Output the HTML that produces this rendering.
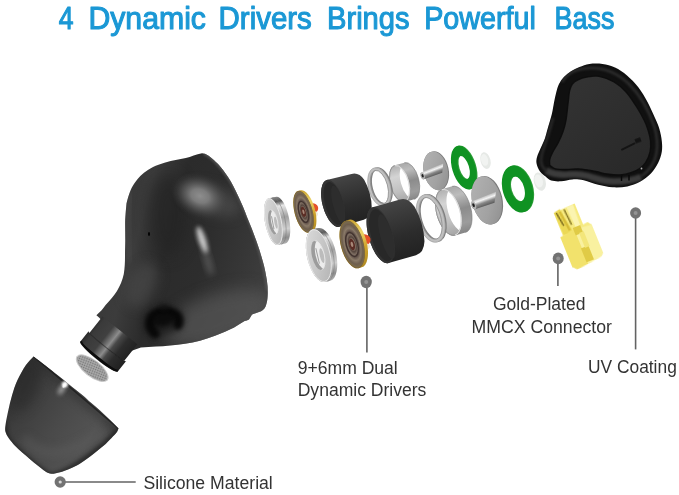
<!DOCTYPE html>
<html lang="en">
<head>
<meta charset="utf-8">
<title>4 Dynamic Drivers Brings Powerful Bass</title>
<style>
html,body{margin:0;padding:0;background:#fff;}
body{width:679px;height:495px;overflow:hidden;position:relative;font-family:"Liberation Sans",sans-serif;}
svg{position:absolute;left:0;top:0;display:block;}
.lbl{font-family:"Liberation Sans",sans-serif;font-size:17.5px;fill:#333;}
.ttl{font-family:"Liberation Sans",sans-serif;font-size:31.4px;fill:#1b98d5;stroke:#1b98d5;stroke-width:1.1px;stroke-linejoin:round;}
</style>
</head>
<body>
<svg width="679" height="495" viewBox="0 0 679 495">
<defs>
  <filter id="b05" color-interpolation-filters="sRGB" x="-50%" y="-50%" width="200%" height="200%"><feGaussianBlur stdDeviation="0.5"/></filter>
  <filter id="b1" color-interpolation-filters="sRGB" x="-50%" y="-50%" width="200%" height="200%"><feGaussianBlur stdDeviation="1"/></filter>
  <filter id="b2" color-interpolation-filters="sRGB" x="-50%" y="-50%" width="200%" height="200%"><feGaussianBlur stdDeviation="2"/></filter>
  <filter id="b3" color-interpolation-filters="sRGB" x="-50%" y="-50%" width="200%" height="200%"><feGaussianBlur stdDeviation="3"/></filter>
  <filter id="b4" color-interpolation-filters="sRGB" x="-50%" y="-50%" width="200%" height="200%"><feGaussianBlur stdDeviation="4"/></filter>
  <filter id="b6" color-interpolation-filters="sRGB" x="-50%" y="-50%" width="200%" height="200%"><feGaussianBlur stdDeviation="6"/></filter>
  <filter id="b8" color-interpolation-filters="sRGB" x="-50%" y="-50%" width="200%" height="200%"><feGaussianBlur stdDeviation="8"/></filter>
  <filter id="soft" color-interpolation-filters="sRGB" x="-5%" y="-5%" width="110%" height="110%"><feGaussianBlur stdDeviation="0.6"/></filter>
</defs>
<rect width="679" height="495" fill="#fff"/>
<!-- TITLE -->
<g id="title" class="ttl" filter="url(#soft)">
  <text y="28.5"><tspan x="58.8" textLength="14.8" lengthAdjust="spacingAndGlyphs">4</tspan> <tspan x="88.4" textLength="117.6" lengthAdjust="spacingAndGlyphs">Dynamic</tspan> <tspan x="218.6" textLength="93.2" lengthAdjust="spacingAndGlyphs">Drivers</tspan> <tspan x="327" textLength="82.6" lengthAdjust="spacingAndGlyphs">Brings</tspan> <tspan x="424.2" textLength="111.6" lengthAdjust="spacingAndGlyphs">Powerful</tspan> <tspan x="554.6" textLength="59.8" lengthAdjust="spacingAndGlyphs">Bass</tspan></text>
</g>
<!-- BODY -->
<g id="body">
  <defs>
    <linearGradient id="bodyG" x1="123" y1="230" x2="270" y2="270" gradientUnits="userSpaceOnUse">
      <stop offset="0" stop-color="#3a3a3a"/>
      <stop offset="0.1" stop-color="#3c3c3c"/>
      <stop offset="0.3" stop-color="#2b2b2b"/>
      <stop offset="0.55" stop-color="#2d2d2d"/>
      <stop offset="0.8" stop-color="#363636"/>
      <stop offset="1" stop-color="#3e3e3e"/>
    </linearGradient>
    <radialGradient id="bodyHL" cx="0.5" cy="0.5" r="0.5">
      <stop offset="0" stop-color="#929292" stop-opacity="0.95"/>
      <stop offset="0.3" stop-color="#858585" stop-opacity="0.85"/>
      <stop offset="0.6" stop-color="#666" stop-opacity="0.5"/>
      <stop offset="0.85" stop-color="#4a4a4a" stop-opacity="0.18"/>
      <stop offset="1" stop-color="#3a3a3a" stop-opacity="0"/>
    </radialGradient>
    <clipPath id="bodyClip">
      <path id="bodyPath" d="M202,153.2 C206,153.3 210,156.5 212,158.5 C215,161 217,163 218.5,164.5 C222,168.5 225,172.5 228,177 C232,183 235,189.5 238,195.7 C241.5,203 244.5,210 247,216.9 C250.5,225 253.5,233 256.4,241 C259,248 261,255 263,262 C264.7,268 266,274.5 266.9,280.4 C267.7,286 268,291 267.7,296.1 C267.5,300 266.8,303.5 265.6,306.6 C264.3,309.5 262,311.3 259,311.9 L252,314.5 L249,319.5 C247.5,320.4 246,320.8 244.6,321 C241,323.3 237.5,325.5 234.1,327.6 C228,330.5 222,333.2 215.7,335.5 C210.5,337.5 205.3,339.2 200,340.7 C195,342 190,343 185,343.8 C175,345.3 165,346.2 156,346.6 C151,347 146,347.5 140.9,347.6 L131,351 L99,317.5 L96.4,315.3 C100,312 103,309 105.6,305 C110,300 114,296 117,291 C120,286 122.5,280 123.8,274 C124.8,268 125,262 125,256.6 C125,251 125.2,246 125.3,240.7 C125.3,233 125,226 125.2,219.5 C125.5,214 126,209 126.5,203.6 C127.5,199 129,194 130.5,190.4 C132,187 133.5,184.5 134.8,182.8 C136.5,180.2 138.3,178 140.3,176 C142.7,173.7 145.2,171.7 147.9,170 C151.2,167.8 154.8,166.1 158.5,164.7 C162.4,163.2 166.5,162 170.6,160.9 C175.6,159.7 180.8,158.9 185.8,157.9 C191,156.8 196.2,154.2 202,153.2 Z"/>
    </clipPath>
  </defs>
  <g filter="url(#soft)">
    <use href="#bodyPath" fill="url(#bodyG)"/>
    <g clip-path="url(#bodyClip)">
      <!-- darker centre-left -->
      <ellipse cx="168" cy="215" rx="20" ry="42" fill="#242424" opacity="0.75" filter="url(#b8)"/>
      <path d="M130,192 C126,215 126.5,240 130,262" stroke="#4a4a4a" stroke-width="6" fill="none" opacity="0.7" filter="url(#b3)"/>
      <ellipse cx="142" cy="285" rx="14" ry="24" fill="#4c4c4c" opacity="0.6" filter="url(#b6)" transform="rotate(25 142 285)"/>
      <!-- lower area slightly lighter -->
      <ellipse cx="218" cy="318" rx="58" ry="24" fill="#585858" opacity="0.7" filter="url(#b8)" transform="rotate(-18 218 318)"/>
      <!-- big soft highlight -->
      <ellipse cx="212" cy="200" rx="30" ry="14" fill="#555" opacity="0.55" filter="url(#b6)" transform="rotate(20 212 200)"/>
      <ellipse cx="200" cy="196" rx="31" ry="22" fill="url(#bodyHL)" transform="rotate(22 200 196)"/>
      <!-- right rim lighter band -->
      <path d="M204,153.5 C212,156 222,168 230,180 C240,196 250,222 257,242 C262,258 266,274 267.5,290" stroke="#5a5a5a" stroke-width="3.5" fill="none" opacity="0.75" filter="url(#b1)"/>
      <!-- streak highlight -->
      <ellipse cx="202.2" cy="240" rx="3.6" ry="14" fill="#d6d6d6" opacity="0.95" filter="url(#b2)" transform="rotate(-18 202.2 240)"/>
      <ellipse cx="208" cy="262" rx="3.5" ry="14" fill="#777" opacity="0.55" filter="url(#b3)" transform="rotate(-16 208 262)"/>
      <!-- cable hole dark spot -->
      <ellipse cx="164" cy="321" rx="19" ry="14" fill="#1a1a1a" opacity="0.8" filter="url(#b4)" transform="rotate(-15 164 321)"/>
      <path d="M155,334 C150,329 148.5,323 151.5,317.5 C155,312 164,310.5 171,312.5 C177,314 180.5,318.5 178,325" stroke="#080808" stroke-width="9.5" fill="none" stroke-linecap="round" filter="url(#b2)"/>
      <ellipse cx="164" cy="319" rx="11" ry="7" fill="#0a0a0a" opacity="0.9" filter="url(#b2)" transform="rotate(-12 164 319)"/>
      <ellipse cx="164" cy="307.5" rx="4" ry="3" fill="#141414" opacity="0.7" filter="url(#b2)"/>
      <!-- small hole -->
      <ellipse cx="149" cy="234" rx="1" ry="2" fill="#000"/>
    </g>
  </g>
</g>
<!-- NOZZLE -->
<g id="nozzle" filter="url(#soft)">
  <defs>
    <linearGradient id="nozG" x1="-24" y1="0" x2="24" y2="0" gradientUnits="userSpaceOnUse">
      <stop offset="0" stop-color="#2a2a2a"/>
      <stop offset="0.1" stop-color="#3a3a3a"/>
      <stop offset="0.34" stop-color="#404040"/>
      <stop offset="0.45" stop-color="#707070"/>
      <stop offset="0.51" stop-color="#8c8c8c"/>
      <stop offset="0.6" stop-color="#484848"/>
      <stop offset="0.75" stop-color="#2c2c2c"/>
      <stop offset="1" stop-color="#202020"/>
    </linearGradient>
  </defs>
  <g transform="translate(100 355.4) rotate(38.5)">
    <!-- neck -->
    <path d="M-22.3,-32 L-22.3,-11 A22.3,1.5 0 0 0 22.3,-11 L22.3,-32 Z" fill="url(#nozG)"/>
    <!-- flange -->
    <path d="M-24,-11.5 A24,1.5 0 0 0 24,-11.5 L24,1.6 A24,3.6 0 0 1 -24,1.6 Z" fill="url(#nozG)"/>
    <path d="M-24,-11.5 A24,1.5 0 0 0 24,-11.5" stroke="#1a1a1a" stroke-width="1" fill="none" opacity="0.55"/>
    <!-- end opening: dark crescent -->
    <path d="M-24,1.2 A24,3.6 0 0 0 24,1.2 A24,0.8 0 0 1 -24,1.2 Z" fill="#0c0c0c"/>
    <path d="M-23.6,0.6 A24,3.6 0 0 0 23.6,0.6" stroke="#0c0c0c" stroke-width="1.6" fill="none"/>
  </g>
</g>
<!-- MESH FILTER -->
<g id="mesh" filter="url(#soft)">
  <defs>
    <pattern id="meshP" width="1.6" height="1.6" patternUnits="userSpaceOnUse" patternTransform="rotate(38)">
      <rect width="1.6" height="1.6" fill="#b4b4b4"/>
      <rect width="0.9" height="0.9" fill="#6e6e6e"/>
    </pattern>
  </defs>
  <g transform="translate(92.2 368.2) rotate(38)">
    <ellipse rx="19.6" ry="8.6" fill="#c9c9c9"/>
    <ellipse rx="18.2" ry="7.4" fill="#8e8e8e"/>
    <ellipse rx="18.2" ry="7.4" fill="url(#meshP)" opacity="0.75"/>
  </g>
</g>
<!-- EAR TIP -->
<g id="tip" filter="url(#soft)">
  <defs>
    <linearGradient id="tipG" x1="10" y1="395" x2="105" y2="455" gradientUnits="userSpaceOnUse">
      <stop offset="0" stop-color="#323232"/>
      <stop offset="0.18" stop-color="#3e3e3e"/>
      <stop offset="0.5" stop-color="#4a4a4a"/>
      <stop offset="0.8" stop-color="#535353"/>
      <stop offset="1" stop-color="#484848"/>
    </linearGradient>
    <clipPath id="tipClip">
      <path id="tipPath" d="M33.6,356.4 C37.4,359.4 40.9,362.1 45.0,365.3 C49.1,368.5 53.8,372.3 58.0,375.6 C62.2,378.9 66.0,382.0 70.0,385.2 C74.0,388.4 78.8,392.1 82.3,395.0 C85.8,397.9 88.0,400.2 91.0,402.8 C94.0,405.4 96.9,407.8 100.0,410.6 C103.1,413.4 106.4,416.5 109.5,419.5 C112.6,422.5 115.5,425.4 118.5,428.4 C117.8,429.8 117.7,430.9 116.5,432.5 C115.3,434.1 113.7,435.7 111.5,437.9 C109.3,440.1 106.4,443.2 103.5,445.8 C100.6,448.4 97.2,451.0 94.3,453.3 C91.4,455.6 88.8,457.5 86.0,459.5 C83.2,461.5 80.2,463.7 77.2,465.3 C74.2,466.9 70.9,468.2 68.0,469.4 C65.1,470.5 62.8,471.5 60.0,472.2 C57.2,472.9 53.9,473.9 51.5,473.8 C49.1,473.7 47.8,472.8 45.5,471.5 C43.2,470.2 40.5,467.8 38.0,465.8 C35.5,463.8 32.9,461.6 30.3,459.4 C27.7,457.2 25.1,455.1 22.5,452.8 C19.9,450.5 17.2,448.2 15.0,445.8 C12.8,443.4 10.6,440.8 9.0,438.5 C7.4,436.2 6.2,434.2 5.6,432.0 C5.0,429.8 5.1,428.6 5.6,425.0 C6.0,421.4 7.2,415.5 8.3,410.6 C9.4,405.7 10.5,400.6 12.0,395.5 C13.5,390.4 15.1,385.4 17.4,380.3 C19.7,375.2 23.1,369.2 25.8,365.2 C28.5,361.2 31.0,359.3 33.6,356.4 Z"/>
    </clipPath>
  </defs>
  <use href="#tipPath" fill="url(#tipG)"/>
  <g clip-path="url(#tipClip)">
    <!-- darker band along the top edge -->
    <path d="M33,356 L119,430" stroke="#2c2c2c" stroke-width="9" fill="none" opacity="0.55" filter="url(#b4)"/>
    <!-- dark bottom rim -->
    <path d="M3.5,420 C3.5,436 8,442 16,449 C28,459.5 40,471 51.5,476 C70,472 98,452 121,428" stroke="#1c1c1c" stroke-width="5" fill="none" opacity="0.8" filter="url(#b2)"/>
    <!-- lighter band above the rim -->
    <path d="M24,438 C38,456 60,462 104,432" stroke="#5e5e5e" stroke-width="9" fill="none" opacity="0.5" filter="url(#b4)"/>
    <!-- dark upper-left area -->
    <ellipse cx="26" cy="385" rx="13" ry="28" fill="#2a2a2a" opacity="0.6" filter="url(#b6)" transform="rotate(20 26 385)"/>
    <!-- specular -->
    <path d="M33.6,356.4 L118.5,428.4" stroke="#1a1a1a" stroke-width="1.6" fill="none" opacity="0.7" filter="url(#b05)"/>
    <ellipse cx="62" cy="389" rx="2.6" ry="6.5" fill="#e8e8e8" opacity="0.6" filter="url(#b2)" transform="rotate(32 62 389)"/>
    <ellipse cx="65" cy="384.2" rx="3" ry="3" fill="#fff" filter="url(#b1)"/>
    <ellipse cx="64.2" cy="385.6" rx="1.6" ry="2.4" fill="#fff" opacity="0.9" filter="url(#b05)" transform="rotate(32 64.2 385.6)"/>
  </g>
</g>
<!-- PARTS -->
<g id="parts" filter="url(#soft)">
<defs>
<linearGradient id="silverSide" x1="0" y1="-1" x2="0" y2="1" gradientUnits="objectBoundingBox" gradientTransform="translate(0 0.5) scale(1 0.5)">
  <stop offset="0" stop-color="#8a8a8a"/><stop offset="0.1" stop-color="#5a5a5a"/><stop offset="0.2" stop-color="#e6e6e6"/><stop offset="0.45" stop-color="#a2a2a2"/><stop offset="0.7" stop-color="#d0d0d0"/><stop offset="0.88" stop-color="#8e8e8e"/><stop offset="1" stop-color="#b0b0b0"/>
</linearGradient>
<linearGradient id="silverFace" x1="0" y1="0" x2="1" y2="1">
  <stop offset="0" stop-color="#dedede"/><stop offset="0.5" stop-color="#c8c8c8"/><stop offset="1" stop-color="#b0b0b0"/>
</linearGradient>
<linearGradient id="tubeSide" x1="0" y1="0" x2="0" y2="1">
  <stop offset="0" stop-color="#a8a8a8"/><stop offset="0.2" stop-color="#bcbcbc"/><stop offset="0.5" stop-color="#8c8c8c"/><stop offset="0.8" stop-color="#9c9c9c"/><stop offset="1" stop-color="#868686"/>
</linearGradient>
<linearGradient id="tubeIn" x1="0" y1="0" x2="0" y2="1">
  <stop offset="0" stop-color="#b0b0b0"/><stop offset="0.3" stop-color="#d4d4d4"/><stop offset="0.7" stop-color="#c0c0c0"/><stop offset="1" stop-color="#a4a4a4"/>
</linearGradient>
<linearGradient id="blkSide" x1="0" y1="0" x2="0" y2="1">
  <stop offset="0" stop-color="#454545"/><stop offset="0.2" stop-color="#3c3c3c"/><stop offset="0.6" stop-color="#2c2c2c"/><stop offset="1" stop-color="#222"/>
</linearGradient>
<linearGradient id="discFace" x1="0" y1="0" x2="1" y2="1">
  <stop offset="0" stop-color="#b4b4b4"/><stop offset="0.6" stop-color="#a2a2a2"/><stop offset="1" stop-color="#8c8c8c"/>
</linearGradient>
<linearGradient id="postG" x1="0" y1="0" x2="0" y2="1">
  <stop offset="0" stop-color="#bdbdbd"/><stop offset="0.3" stop-color="#f4f4f4"/><stop offset="0.62" stop-color="#8a8a8a"/><stop offset="1" stop-color="#5a5a5a"/>
</linearGradient>
<radialGradient id="drvFace" cx="0.5" cy="0.5" r="0.5">
  <stop offset="0" stop-color="#4a2a22"/><stop offset="0.14" stop-color="#6e4234"/><stop offset="0.22" stop-color="#8c7a6c"/><stop offset="0.32" stop-color="#54443c"/><stop offset="0.44" stop-color="#7e6e62"/><stop offset="0.56" stop-color="#62524a"/><stop offset="0.7" stop-color="#8a7a68"/><stop offset="0.86" stop-color="#6e5e4e"/><stop offset="1" stop-color="#7c6c4c"/>
</radialGradient>
<linearGradient id="goldRim" x1="0" y1="0" x2="0" y2="1">
  <stop offset="0" stop-color="#c8a030"/><stop offset="0.3" stop-color="#ecd468"/><stop offset="0.6" stop-color="#d0a42c"/><stop offset="1" stop-color="#b08a24"/>
</linearGradient>
</defs>
<g transform="translate(485.5 160.6) rotate(-14)"><ellipse rx="5.0" ry="8.5" fill="#e6e9e6"/><ellipse cx="-0.75" cy="-0.8500000000000001" rx="3.5" ry="5.949999999999999" fill="#f1f3f1"/></g>
<g transform="translate(463.7 167.6) rotate(-17)"><path fill-rule="evenodd" d="M-10.5,0 A11.5,22.6 0 1 0 12.5,0 A11.5,22.6 0 1 0 -10.5,0 Z M-4.3,0 A5.3,12.0 0 1 0 6.3,0 A5.3,12.0 0 1 0 -4.3,0 Z" fill="#2f9e3a"/><path fill-rule="evenodd" d="M-11.5,0 A11.5,22.6 0 1 0 11.5,0 A11.5,22.6 0 1 0 -11.5,0 Z M-5.3,0 A5.3,12.0 0 1 0 5.3,0 A5.3,12.0 0 1 0 -5.3,0 Z" fill="#0f9222"/></g>
<g transform="translate(435.7 170.8) rotate(-12)"><path d="M0,-19.6 L1.0,-19.6 A12.0,19.6 0 0 1 1.0,19.6 L0,19.6 A12.0,19.6 0 0 1 0,-19.6 Z" fill="#7c7c7c"/><ellipse rx="12.0" ry="19.6" fill="url(#discFace)"/><g transform="rotate(-9)"><path d="M9.600000000000001,-4.14 L-14.0,-3.6 A1.9800000000000002,3.6 0 0 0 -14.0,3.6 L5.4,4.14 Z" fill="url(#postG)"/><ellipse cx="-14.0" rx="1.9800000000000002" ry="3.6" fill="#b4b4b4"/><ellipse cx="-14.0" rx="0.9900000000000001" ry="1.8" fill="#1e1e1e"/></g></g>
<g transform="translate(399.6 183.6) rotate(-15)"><path d="M0,-19.0 L10.0,-19.0 A9.6,19.0 0 0 1 10.0,19.0 L0,19.0 A9.6,19.0 0 0 1 0,-19.0 Z" fill="url(#tubeSide)"/><ellipse rx="9.6" ry="19.0" fill="url(#tubeIn)"/><path d="M0,-18.6 A9.2,18.6 0 0 0 0,18.6" fill="none" stroke="#8e8e8e" stroke-width="0.8"/><path d="M0,-18.6 A9.2,18.6 0 0 1 0,18.6" fill="none" stroke="#e0e0e0" stroke-width="0.9"/><clipPath id="tc399"><ellipse rx="8.6" ry="18.0"/></clipPath><g clip-path="url(#tc399)"><ellipse cx="10.0" rx="8.6" ry="18.0" fill="#fff"/></g><path d="M10.0,-19.0 A9.6,19.0 0 0 1 10.0,19.0" fill="none" stroke="#7a7a7a" stroke-width="0.7" opacity="0.8"/></g>
<g transform="translate(379.4 187.0) rotate(-15)"><ellipse cx="1.5" rx="9.6" ry="18.4" fill="none" stroke="#808080" stroke-width="3.0"/><ellipse rx="9.6" ry="18.4" fill="none" stroke="#c0c0c0" stroke-width="3.0"/><ellipse rx="8.25" ry="17.049999999999997" fill="none" stroke="#8a8a8a" stroke-width="0.7"/><ellipse rx="10.95" ry="19.75" fill="none" stroke="#9a9a9a" stroke-width="0.5"/></g>
<g transform="translate(333.0 203.4) rotate(-15)"><path d="M0,-24.2 L25.5,-23.7 Q33.12737603305785,-23.7 36.21229338842976,-14.693999999999999 Q40.01702479338843,0 36.21229338842976,14.693999999999999 Q33.12737603305785,23.7 25.5,23.7 L0,24.2 A10.5,24.2 0 0 1 0,-24.2 Z" fill="url(#blkSide)"/><ellipse rx="10.5" ry="24.2" fill="#333"/><ellipse cx="0.9" cy="0.3" rx="8.9" ry="22.0" fill="#282828"/><ellipse cx="4.7250000000000005" cy="2.42" rx="5.25" ry="19.36" fill="#2e2e2e" opacity="0.8"/></g>
<g transform="translate(303.6 211.8) rotate(-15)"><ellipse cx="9.620000000000001" cy="-0.8640000000000001" rx="5.58" ry="5.184" fill="#e4502a"/><ellipse cx="8.9" cy="5.184" rx="4.5" ry="3.0240000000000005" fill="#f1ead8"/><path d="M0,-21.6 L2.6,-21.6 A9.0,21.6 0 0 1 2.6,21.6 L0,21.6 A9.0,21.6 0 0 1 0,-21.6 Z" fill="url(#goldRim)"/><ellipse rx="9.0" ry="21.6" fill="#7a6234"/><ellipse cx="0.18" rx="8.549999999999999" ry="20.844" fill="url(#drvFace)"/><ellipse cx="-0.18" rx="4.5" ry="10.8" fill="none" stroke="#3a2c28" stroke-width="1.4" opacity="0.85"/><ellipse cx="-0.18" rx="2.16" ry="5.184" fill="#5a2c24"/><ellipse cx="-0.18" rx="0.99" ry="2.3760000000000003" fill="#a88878"/></g>
<g transform="translate(273.4 221.6) rotate(-11)"><path d="M0,-23.8 L7.6,-23.8 A8.4,23.8 0 0 1 7.6,23.8 L0,23.8 A8.4,23.8 0 0 1 0,-23.8 Z" fill="url(#silverSide)"/><path d="M3.42,-23.8 A8.4,23.8 0 0 1 3.42,23.8" fill="none" stroke="#777" stroke-width="0.7" opacity="0.7"/><ellipse rx="8.4" ry="23.8" fill="url(#silverFace)"/><ellipse rx="7.9" ry="23.3" fill="none" stroke="#ececec" stroke-width="0.9" opacity="0.9"/><ellipse cx="-0.4" cy="0.6" rx="4.6" ry="12.4" fill="#9c9c9c"/><clipPath id="wc273"><ellipse cx="-0.4" cy="0.6" rx="4.6" ry="12.4"/></clipPath><g clip-path="url(#wc273)"><ellipse cx="2.36" cy="0.6" rx="4.6" ry="12.4" fill="#ececec"/><path d="M-0.86,-5.6000000000000005 L-0.86,7.420000000000001" stroke="#8a8a8a" stroke-width="0.9" fill="none" opacity="0.8"/><ellipse cx="2.36" cy="1.592" rx="1.6099999999999999" ry="6.2" fill="#bcbcbc"/></g><path d="M-0.4,-11.8 A4.6,12.4 0 0 1 -0.4,13.0" fill="none" stroke="#e8e8e8" stroke-width="0.8"/></g>
<g transform="translate(539.8 181.6) rotate(-16)"><ellipse rx="5.8" ry="9.4" fill="#e6e9e6"/><ellipse cx="-0.87" cy="-0.9400000000000001" rx="4.06" ry="6.58" fill="#f1f3f1"/></g>
<g transform="translate(517.5 189.0) rotate(-16)"><path fill-rule="evenodd" d="M-13.8,0 A14.8,24.0 0 1 0 15.8,0 A14.8,24.0 0 1 0 -13.8,0 Z M-5.8,0 A6.8,12.8 0 1 0 7.8,0 A6.8,12.8 0 1 0 -5.8,0 Z" fill="#2f9e3a"/><path fill-rule="evenodd" d="M-14.8,0 A14.8,24.0 0 1 0 14.8,0 A14.8,24.0 0 1 0 -14.8,0 Z M-6.8,0 A6.8,12.8 0 1 0 6.8,0 A6.8,12.8 0 1 0 -6.8,0 Z" fill="#0f9222"/></g>
<g transform="translate(486.7 200.4) rotate(-13)"><path d="M0,-24.6 L1.2,-24.6 A14.6,24.6 0 0 1 1.2,24.6 L0,24.6 A14.6,24.6 0 0 1 0,-24.6 Z" fill="#7c7c7c"/><ellipse rx="14.6" ry="24.6" fill="url(#discFace)"/><g transform="rotate(-7)"><path d="M11.68,-4.83 L-14.0,-4.2 A2.3100000000000005,4.2 0 0 0 -14.0,4.2 L6.57,4.83 Z" fill="url(#postG)"/><ellipse cx="-14.0" rx="2.3100000000000005" ry="4.2" fill="#b4b4b4"/><ellipse cx="-14.0" rx="1.1550000000000002" ry="2.1" fill="#1e1e1e"/></g></g>
<g transform="translate(448.4 212.4) rotate(-16)"><path d="M0,-24.0 L10.8,-24.0 A12.0,24.0 0 0 1 10.8,24.0 L0,24.0 A12.0,24.0 0 0 1 0,-24.0 Z" fill="url(#tubeSide)"/><ellipse rx="12.0" ry="24.0" fill="url(#tubeIn)"/><path d="M0,-23.6 A11.6,23.6 0 0 0 0,23.6" fill="none" stroke="#8e8e8e" stroke-width="0.8"/><path d="M0,-23.6 A11.6,23.6 0 0 1 0,23.6" fill="none" stroke="#e0e0e0" stroke-width="0.9"/><clipPath id="tc448"><ellipse rx="11.0" ry="23.0"/></clipPath><g clip-path="url(#tc448)"><ellipse cx="10.8" rx="11.0" ry="23.0" fill="#fff"/></g><path d="M10.8,-24.0 A12.0,24.0 0 0 1 10.8,24.0" fill="none" stroke="#7a7a7a" stroke-width="0.7" opacity="0.8"/></g>
<g transform="translate(430.6 218.4) rotate(-16)"><ellipse cx="1.5" rx="11.8" ry="23.0" fill="none" stroke="#808080" stroke-width="3.4"/><ellipse rx="11.8" ry="23.0" fill="none" stroke="#c0c0c0" stroke-width="3.4"/><ellipse rx="10.270000000000001" ry="21.47" fill="none" stroke="#8a8a8a" stroke-width="0.7"/><ellipse rx="13.33" ry="24.53" fill="none" stroke="#9a9a9a" stroke-width="0.5"/></g>
<g transform="translate(380.6 235.2) rotate(-16)"><path d="M0,-29.0 L28.5,-29.0 Q36.9,-29.0 40.5,-17.98 Q44.94,0 40.5,17.98 Q36.9,29.0 28.5,29.0 L0,29.0 A12.0,29.0 0 0 1 0,-29.0 Z" fill="url(#blkSide)"/><ellipse rx="12.0" ry="29.0" fill="#333"/><ellipse cx="0.9" cy="0.3" rx="10.4" ry="26.8" fill="#282828"/><ellipse cx="5.4" cy="2.9000000000000004" rx="6.0" ry="23.200000000000003" fill="#2e2e2e" opacity="0.8"/></g>
<g transform="translate(352.2 244.4) rotate(-15)"><ellipse cx="12.092000000000002" cy="-0.9840000000000001" rx="7.0680000000000005" ry="5.904" fill="#e4502a"/><ellipse cx="11.18" cy="5.904" rx="5.7" ry="3.4440000000000004" fill="#f1ead8"/><path d="M0,-24.6 L3.2,-24.6 A11.4,24.6 0 0 1 3.2,24.6 L0,24.6 A11.4,24.6 0 0 1 0,-24.6 Z" fill="url(#goldRim)"/><ellipse rx="11.4" ry="24.6" fill="#7a6234"/><ellipse cx="0.228" rx="10.83" ry="23.739" fill="url(#drvFace)"/><ellipse cx="-0.228" rx="5.7" ry="12.3" fill="none" stroke="#3a2c28" stroke-width="1.4" opacity="0.85"/><ellipse cx="-0.228" rx="2.7359999999999998" ry="5.904" fill="#5a2c24"/><ellipse cx="-0.228" rx="1.254" ry="2.706" fill="#a88878"/></g>
<g transform="translate(318.8 255.6) rotate(-13)"><path d="M0,-27.0 L5.6,-27.0 A11.8,27.0 0 0 1 5.6,27.0 L0,27.0 A11.8,27.0 0 0 1 0,-27.0 Z" fill="url(#silverSide)"/><path d="M2.52,-27.0 A11.8,27.0 0 0 1 2.52,27.0" fill="none" stroke="#777" stroke-width="0.7" opacity="0.7"/><ellipse rx="11.8" ry="27.0" fill="url(#silverFace)"/><ellipse rx="11.3" ry="26.5" fill="none" stroke="#ececec" stroke-width="0.9" opacity="0.9"/><ellipse cx="-0.6" cy="-0.4" rx="6.2" ry="15.0" fill="#9c9c9c"/><clipPath id="wc318"><ellipse cx="-0.6" cy="-0.4" rx="6.2" ry="15.0"/></clipPath><g clip-path="url(#wc318)"><ellipse cx="3.1199999999999997" cy="-0.4" rx="6.2" ry="15.0" fill="#ececec"/><path d="M-1.2200000000000002,-7.9 L-1.2200000000000002,7.85" stroke="#8a8a8a" stroke-width="0.9" fill="none" opacity="0.8"/><ellipse cx="3.1199999999999997" cy="0.7999999999999999" rx="2.17" ry="7.5" fill="#bcbcbc"/></g><path d="M-0.6,-15.4 A6.2,15.0 0 0 1 -0.6,14.6" fill="none" stroke="#e8e8e8" stroke-width="0.8"/></g>
</g>
<!-- FACEPLATE -->
<g id="face" filter="url(#soft)">
  <defs>
    <linearGradient id="fpIn" x1="570" y1="80" x2="640" y2="170" gradientUnits="userSpaceOnUse">
      <stop offset="0" stop-color="#333"/>
      <stop offset="0.5" stop-color="#2e2e2e"/>
      <stop offset="1" stop-color="#292929"/>
    </linearGradient>
    <clipPath id="fpClip"><path d="M589.4,64.0 C593.2,63.5 598.2,63.4 602.5,64.0 C606.8,64.6 610.9,65.6 615.0,67.5 C619.1,69.4 623.1,72.2 627.0,75.5 C630.9,78.8 635.1,83.1 638.5,87.5 C641.9,91.9 644.8,96.9 647.5,102.0 C650.2,107.1 653.0,113.5 655.0,118.0 C657.0,122.5 658.3,125.2 659.4,129.0 C660.5,132.8 661.4,137.2 661.8,141.0 C662.2,144.8 662.4,148.2 661.8,151.8 C661.2,155.4 660.0,159.1 658.2,162.7 C656.4,166.3 653.9,170.4 650.9,173.6 C647.9,176.8 643.9,179.7 640.0,181.8 C636.1,183.9 631.8,185.5 627.3,186.4 C622.8,187.3 617.6,187.6 612.7,187.3 C607.9,187.0 603.0,186.0 598.2,184.8 C593.4,183.6 588.0,181.2 583.7,180.3 C579.4,179.4 576.2,179.2 572.4,179.4 C568.6,179.6 564.6,181.1 561.1,181.3 C557.6,181.5 553.8,181.4 551.2,180.6 C548.6,179.8 547.5,178.1 545.6,176.6 C543.7,175.1 541.5,173.6 540.0,171.5 C538.5,169.4 537.1,166.2 536.6,163.8 C536.1,161.4 536.4,159.4 537.1,156.8 C537.8,154.2 539.3,151.4 540.6,148.3 C541.9,145.2 543.7,141.7 544.9,138.4 C546.1,135.1 546.5,132.6 547.7,128.5 C548.9,124.4 550.9,118.0 551.9,113.7 C552.9,109.4 553.3,105.9 554.0,102.4 C554.7,98.9 555.4,95.6 556.2,92.5 C557.0,89.4 557.7,86.6 559.0,84.0 C560.3,81.4 561.9,79.1 563.9,77.0 C565.9,74.9 568.4,73.0 571.0,71.3 C573.6,69.6 576.4,68.3 579.5,67.1 C582.6,65.9 585.6,64.5 589.4,64.0 Z"/></clipPath>
  </defs>
  <path d="M589.4,64.0 C593.2,63.5 598.2,63.4 602.5,64.0 C606.8,64.6 610.9,65.6 615.0,67.5 C619.1,69.4 623.1,72.2 627.0,75.5 C630.9,78.8 635.1,83.1 638.5,87.5 C641.9,91.9 644.8,96.9 647.5,102.0 C650.2,107.1 653.0,113.5 655.0,118.0 C657.0,122.5 658.3,125.2 659.4,129.0 C660.5,132.8 661.4,137.2 661.8,141.0 C662.2,144.8 662.4,148.2 661.8,151.8 C661.2,155.4 660.0,159.1 658.2,162.7 C656.4,166.3 653.9,170.4 650.9,173.6 C647.9,176.8 643.9,179.7 640.0,181.8 C636.1,183.9 631.8,185.5 627.3,186.4 C622.8,187.3 617.6,187.6 612.7,187.3 C607.9,187.0 603.0,186.0 598.2,184.8 C593.4,183.6 588.0,181.2 583.7,180.3 C579.4,179.4 576.2,179.2 572.4,179.4 C568.6,179.6 564.6,181.1 561.1,181.3 C557.6,181.5 553.8,181.4 551.2,180.6 C548.6,179.8 547.5,178.1 545.6,176.6 C543.7,175.1 541.5,173.6 540.0,171.5 C538.5,169.4 537.1,166.2 536.6,163.8 C536.1,161.4 536.4,159.4 537.1,156.8 C537.8,154.2 539.3,151.4 540.6,148.3 C541.9,145.2 543.7,141.7 544.9,138.4 C546.1,135.1 546.5,132.6 547.7,128.5 C548.9,124.4 550.9,118.0 551.9,113.7 C552.9,109.4 553.3,105.9 554.0,102.4 C554.7,98.9 555.4,95.6 556.2,92.5 C557.0,89.4 557.7,86.6 559.0,84.0 C560.3,81.4 561.9,79.1 563.9,77.0 C565.9,74.9 568.4,73.0 571.0,71.3 C573.6,69.6 576.4,68.3 579.5,67.1 C582.6,65.9 585.6,64.5 589.4,64.0 Z" fill="#101010"/>
  <g clip-path="url(#fpClip)">
    <!-- rim highlight band (top/right) -->
    <path d="M562,82 C567,72.5 578,68.5 590,68 C604,67.5 618,73.5 629,84 C641,96 649.5,112 654.5,127 C657,136 657.8,146 656.5,153 C655,162 649,171 641,176.5" stroke="#2e2e2e" stroke-width="2.6" fill="none" filter="url(#b1)"/>
    <!-- bottom wall band -->
    <path d="M546,170.5 C553,174 560,175 567,174.6 C574,174 581,174 588,176 C596,178.5 603,181 612,181.5 C622,182 632,180.5 641,177" stroke="#3c3c3c" stroke-width="6.5" fill="none" filter="url(#b1)"/>
    <path d="M553,118 C550,131 545,143 542,154 C540,162 541.5,168 547,171" stroke="#2a2a2a" stroke-width="2.5" fill="none" filter="url(#b1)"/>
  </g>
  <!-- inner panel -->
  <path d="M578.1,79.8 C580.5,78.7 583.1,77.8 586.6,77.2 C590.1,76.6 594.4,75.6 599.0,76.4 C603.6,77.2 609.5,79.4 614.0,82.0 C618.5,84.6 622.3,88.0 626.0,92.0 C629.7,96.0 633.0,101.3 636.0,106.0 C639.0,110.7 642.0,116.0 644.0,120.0 C646.0,124.0 646.9,126.5 648.0,130.0 C649.1,133.5 650.2,137.4 650.5,141.0 C650.8,144.6 650.8,148.2 650.0,151.8 C649.2,155.4 647.2,160.0 645.5,162.7 C643.8,165.4 642.4,166.5 640.0,168.2 C637.6,169.9 634.2,171.6 630.9,172.7 C627.6,173.8 623.9,174.6 620.0,174.8 C616.1,175.0 611.1,174.5 607.3,174.0 C603.5,173.5 600.0,172.3 597.0,171.7 C594.0,171.1 592.5,170.7 589.4,170.2 C586.2,169.7 581.9,168.9 578.1,168.8 C574.3,168.7 570.6,169.5 566.8,169.5 C563.0,169.5 558.3,169.5 555.5,168.8 C552.7,168.1 551.7,166.5 549.8,165.3 C549.8,163.4 549.3,161.7 549.8,159.6 C550.3,157.5 551.2,155.3 552.6,152.5 C554.0,149.7 556.5,146.1 558.3,142.6 C560.1,139.1 561.9,135.1 563.2,131.3 C564.5,127.5 565.3,124.8 566.1,120.0 C566.9,115.2 567.6,107.2 568.2,102.4 C568.8,97.6 568.9,94.2 569.6,91.1 C570.3,88.0 571.0,85.9 572.4,84.0 C573.8,82.1 575.7,80.9 578.1,79.8 Z" fill="url(#fpIn)"/>
  <path d="M578.1,79.8 C580.5,78.7 583.1,77.8 586.6,77.2 C590.1,76.6 594.4,75.6 599.0,76.4 C603.6,77.2 609.5,79.4 614.0,82.0 C618.5,84.6 622.3,88.0 626.0,92.0 C629.7,96.0 633.0,101.3 636.0,106.0 C639.0,110.7 642.0,116.0 644.0,120.0 C646.0,124.0 646.9,126.5 648.0,130.0 C649.1,133.5 650.2,137.4 650.5,141.0 C650.8,144.6 650.8,148.2 650.0,151.8 C649.2,155.4 647.2,160.0 645.5,162.7 C643.8,165.4 642.4,166.5 640.0,168.2 C637.6,169.9 634.2,171.6 630.9,172.7 C627.6,173.8 623.9,174.6 620.0,174.8 C616.1,175.0 611.1,174.5 607.3,174.0 C603.5,173.5 600.0,172.3 597.0,171.7 C594.0,171.1 592.5,170.7 589.4,170.2 C586.2,169.7 581.9,168.9 578.1,168.8 C574.3,168.7 570.6,169.5 566.8,169.5 C563.0,169.5 558.3,169.5 555.5,168.8 C552.7,168.1 551.7,166.5 549.8,165.3 C549.8,163.4 549.3,161.7 549.8,159.6 C550.3,157.5 551.2,155.3 552.6,152.5 C554.0,149.7 556.5,146.1 558.3,142.6 C560.1,139.1 561.9,135.1 563.2,131.3 C564.5,127.5 565.3,124.8 566.1,120.0 C566.9,115.2 567.6,107.2 568.2,102.4 C568.8,97.6 568.9,94.2 569.6,91.1 C570.3,88.0 571.0,85.9 572.4,84.0 C573.8,82.1 575.7,80.9 578.1,79.8 Z" fill="none" stroke="#0a0a0a" stroke-width="1.3" opacity="0.85"/>
  <!-- slot -->
  <path d="M622,149.6 L634.5,143.4" stroke="#141414" stroke-width="1.9" fill="none" stroke-linecap="round" filter="url(#b05)"/>
  <rect x="635" y="138.2" width="6" height="4.4" fill="#131313" transform="rotate(-20 638 140.4)" filter="url(#b05)"/>
  <circle cx="641.5" cy="168.5" r="0.9" fill="#b0b0b0"/>
  <path d="M621.5,175.5 L621.5,181 M629,175 L629,180.5" stroke="#080808" stroke-width="1.5"/>
</g>
<!-- GOLD CONNECTOR -->
<g id="gold" filter="url(#soft)">
  <g transform="translate(577 236) rotate(-22)" filter="url(#b05)">
    <!-- upper pins -->
    <path d="M-13,-30 L10,-31 L10,-4 L-13,-4 Z" fill="#f6ea80"/>
    <path d="M-13,-30 L-6,-31.5 L-2,-6 L-12,-6 Z" fill="#ecd956"/>
    <path d="M1,-31 L8,-30.5 L7,-8 L2,-8 Z" fill="#fbf4b0"/>
    <path d="M-10.5,-28.5 L-8.5,-15" stroke="#7a6a1c" stroke-width="1.5" stroke-linecap="round"/>
    <path d="M-2,-29 L-0.8,-13" stroke="#8a7a26" stroke-width="1.5" stroke-linecap="round"/>
    <path d="M-7,-29 L-4.5,-8" stroke="#d6bc38" stroke-width="2.2"/>
    <!-- lower block -->
    <path d="M-16,-5 L15,-9 L18,-5 L18,25 L15,28 L-12,31 L-16,27 Z" fill="#f6ea84"/>
    <path d="M-16,-5 L0,-7 L0,30 L-12,31 L-16,27 Z" fill="#f2e26c"/>
    <path d="M0,-7 L18,-5 L18,25 L15,28 L0,30 Z" fill="#f9f1a0"/>
    <rect x="-1" y="-9" width="8" height="8" fill="#e0cb46"/>
    <rect x="-1" y="13" width="8" height="15" fill="#e0cb46"/>
    <rect x="3" y="-2" width="5" height="16" fill="#f3e67a"/>
  </g>
</g>
<!-- LABELS -->
<g id="labels">
  <g stroke="#636363" stroke-width="1.6" fill="none" filter="url(#b05)">
    <line x1="65" y1="482" x2="135.7" y2="482"/>
    <line x1="366.9" y1="288" x2="366.9" y2="352.5"/>
    <line x1="557.9" y1="263" x2="557.9" y2="286"/>
    <line x1="635.6" y1="218" x2="635.6" y2="349.4"/>
  </g>
  <g fill="#727272" filter="url(#b05)">
    <ellipse cx="60.2" cy="482" rx="5.6" ry="5.8"/>
    <ellipse cx="366.2" cy="282" rx="5.6" ry="6.2"/>
    <ellipse cx="558.2" cy="258.4" rx="5.5" ry="5.8"/>
    <ellipse cx="635.6" cy="213" rx="5.5" ry="5.8"/>
  </g>
  <g fill="#939393" filter="url(#b05)">
    <circle cx="60.2" cy="482" r="1.6" fill="#d8d8d8"/>
    <circle cx="366.2" cy="282" r="2" />
    <circle cx="558.2" cy="258.4" r="2"/>
    <circle cx="635.6" cy="213" r="2"/>
  </g>
  <g filter="url(#b05)">
  <text class="lbl" x="143.4" y="488.7" textLength="129.4" lengthAdjust="spacingAndGlyphs">Silicone Material</text>
  <text class="lbl" x="297.7" y="374.2" textLength="100.1" lengthAdjust="spacingAndGlyphs">9+6mm Dual</text>
  <text class="lbl" x="297.7" y="396.3" textLength="128.7" lengthAdjust="spacingAndGlyphs">Dynamic Drivers</text>
  <text class="lbl" x="493" y="310" textLength="92.4" lengthAdjust="spacingAndGlyphs">Gold-Plated</text>
  <text class="lbl" x="471.5" y="333" textLength="140.5" lengthAdjust="spacingAndGlyphs">MMCX Connector</text>
  <text class="lbl" x="588" y="372.5" textLength="88.8" lengthAdjust="spacingAndGlyphs">UV Coating</text>
  </g>
</g>
</svg>
</body>
</html>
